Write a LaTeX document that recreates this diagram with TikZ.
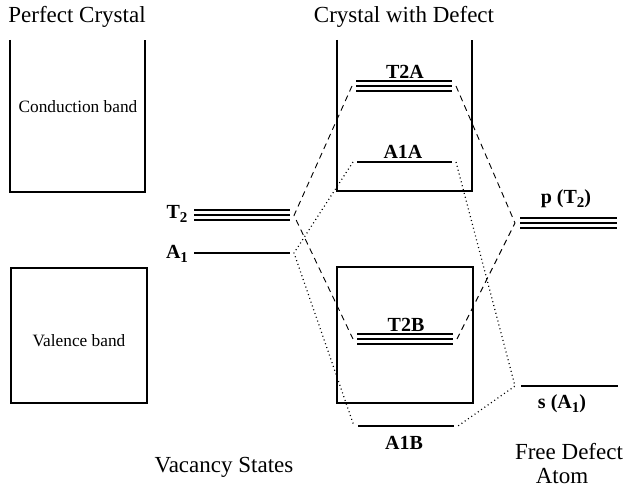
\documentclass[tikz,border=0pt]{standalone}
\usepackage{fontspec}
\setmainfont{Liberation Serif}
\newcommand{\lowsub}[1]{\raisebox{-0.35ex}{\fontsize{15}{15}\selectfont #1}}
\begin{document}
\begin{tikzpicture}[x=1pt,y=-1pt,
  band/.style={line width=1.7pt},
  lvl/.style={line width=2pt},
  lbl/.style={font=\fontsize{20}{22}\selectfont\bfseries, inner sep=0pt},
  ttl/.style={font=\fontsize{23}{26}\selectfont, inner sep=0pt},
  bandtxt/.style={font=\fontsize{17.3}{20}\selectfont, inner sep=0pt},
  tconn/.style={line width=0.9pt, dash pattern=on 6pt off 4.5pt},
  aconn/.style={line width=1.2pt, dash pattern=on 1pt off 3pt}]
\useasboundingbox (0,0) rectangle (625,489);

% titles
\node[ttl] (tpc) at (77,17) {Perfect Crystal};
\node[ttl] (tcd) at (404,17) {Crystal with Defect};
\node[ttl] (tvs) at (224,467) {Vacancy States};
\node[ttl] (tfd) at (569,452) {Free Defect};
\node[ttl] (tat) at (562,476) {Atom};

% perfect crystal bands
\draw[band] (10,40) -- (10,192) -- (145,192) -- (145,40);
\node[bandtxt] (cb) at (78,107) {Conduction band};
\draw[band] (11,268) rectangle (147,403);
\node[bandtxt] (vb) at (79,341) {Valence band};

% defect crystal bands
\draw[band] (337,40) -- (337,191) -- (472,191) -- (472,40);
\draw[band] (337,267) rectangle (473,403);

% level end points
\coordinate (T2L) at (194,215.5); \coordinate (T2R) at (290,215.5);
\coordinate (A1L) at (194,253);   \coordinate (A1R) at (290,253);
\coordinate (T2AL) at (356,86);   \coordinate (T2AR) at (452,86);
\coordinate (A1AL) at (357,162);  \coordinate (A1AR) at (452,162);
\coordinate (T2BL) at (357,339);  \coordinate (T2BR) at (453,339);
\coordinate (A1BL) at (358,426);  \coordinate (A1BR) at (454,426);
\coordinate (PL) at (520,223);    \coordinate (PR) at (617,223);
\coordinate (SL) at (521,386);    \coordinate (SR) at (618,386);

% triple levels
\foreach \a/\b in {T2L/T2R, T2AL/T2AR, T2BL/T2BR, PL/PR}{
  \foreach \d in {-5,0,5}{
    \draw[lvl] ([yshift=\d pt]\a) -- ([yshift=\d pt]\b);
  }
}
% single levels
\draw[lvl] (A1L) -- (A1R);
\draw[lvl] (A1AL) -- (A1AR);
\draw[lvl] (A1BL) -- (A1BR);
\draw[lvl] (SL) -- (SR);

% labels
\node[lbl] (lT2) at (177,214) {T\lowsub{2}};
\node[lbl] (lA1) at (177,254) {A\lowsub{1}};
\node[lbl] (lT2A) at (405,72) {T2A};
\node[lbl] (lA1A) at (403,152) {A1A};
\node[lbl] (lT2B) at (406,325) {T2B};
\node[lbl] (lA1B) at (404,443) {A1B};
\node[lbl] (lp) at (566,199) {p (T\lowsub{2})};
\node[lbl] (ls) at (562,404) {s (A\lowsub{1})};

% connectors
\draw[tconn] ([xshift=-4pt]T2AL) -- ([xshift=4pt]T2R) -- ([xshift=-4pt]T2BL);
\draw[tconn] ([xshift=4pt]T2AR) -- ([xshift=-5pt]PL) -- ([xshift=4pt]T2BR);
\draw[aconn] ([xshift=-4pt]A1AL) -- ([xshift=4pt]A1R) -- ([xshift=-4pt]A1BL);
\draw[aconn] ([xshift=4pt]A1AR) -- ([xshift=-6pt]SL) -- ([xshift=4pt]A1BR);
\end{tikzpicture}
\end{document}
